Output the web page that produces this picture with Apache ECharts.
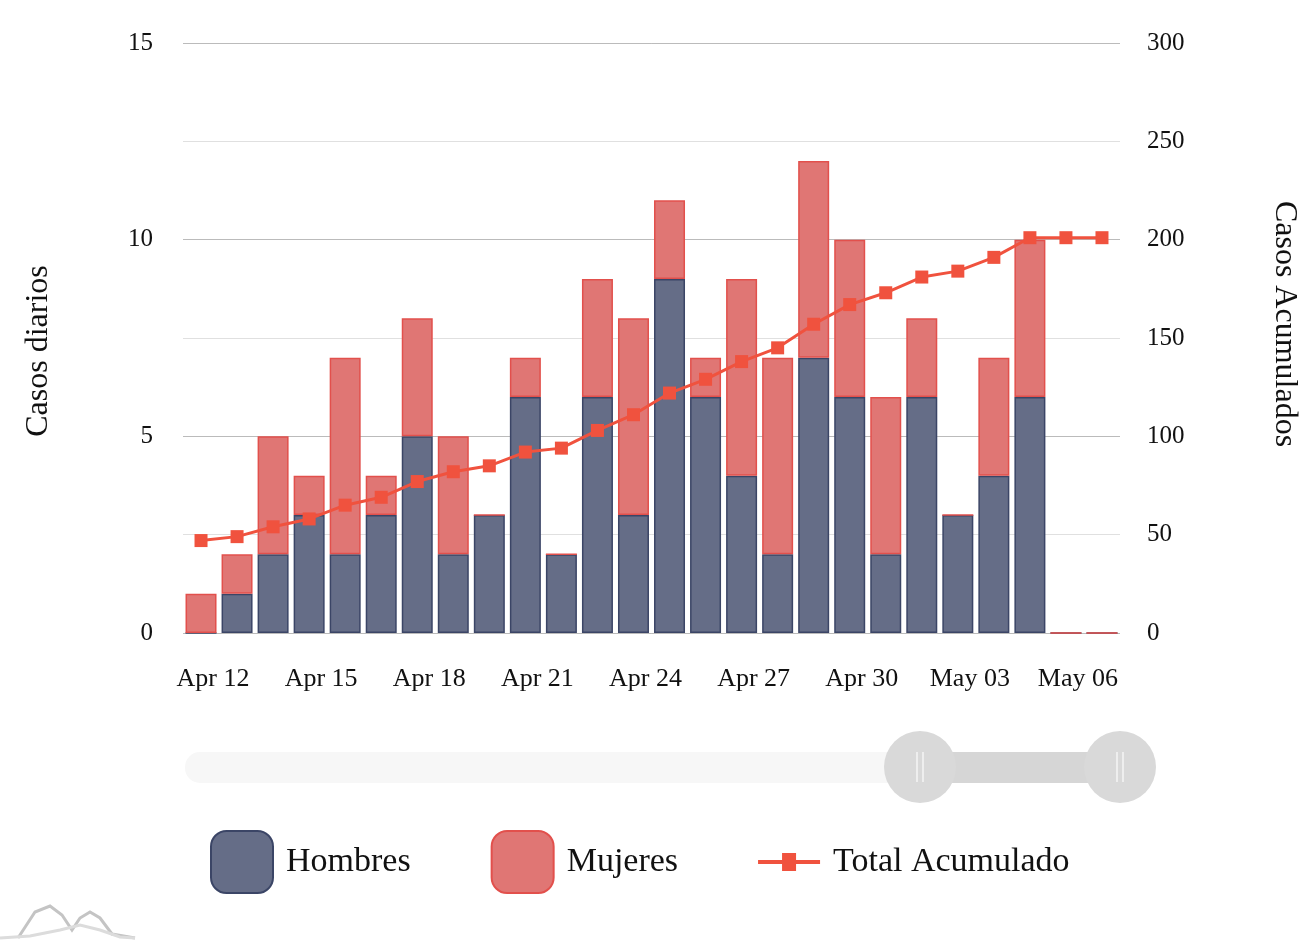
<!DOCTYPE html>
<html>
<head>
<meta charset="utf-8">
<script src="https://cdn.jsdelivr.net/npm/echarts@6/dist/echarts.min.js"></script>
<style>
html,body{margin:0;padding:0;background:#fff;}
#chart{width:1302px;height:940px;}
</style>
</head>
<body>
<div id="chart"></div>
<script>
const categories = ['Apr 12','Apr 13','Apr 14','Apr 15','Apr 16','Apr 17','Apr 18','Apr 19','Apr 20','Apr 21','Apr 22','Apr 23','Apr 24','Apr 25','Apr 26','Apr 27','Apr 28','Apr 29','Apr 30','May 01','May 02','May 03','May 04','May 05','May 06','May 07'];
const hombres = [0,1,2,3,2,3,5,2,3,6,2,6,3,9,6,4,2,7,6,2,6,3,4,6,0,0];
const mujeres = [1,1,3,1,5,1,3,3,0,1,0,3,5,2,1,5,5,5,4,4,2,0,3,4,0,0];
const totalAcumulado = [47,49,54,58,65,69,77,82,85,92,94,103,111,122,129,138,145,157,167,173,181,184,191,201,201,201];
const leftTicks = [0,15,5];   // min, max, interval
const rightTicks = [0,300,50];

const FONT = "'Liberation Serif','Times New Roman',serif";
const chart = echarts.init(document.getElementById('chart'));

function handle(cx){
  return [
    {type:'circle', shape:{cx:cx, cy:767, r:36}, style:{fill:'#d9d9d9'}},
    {type:'line', shape:{x1:cx-3,y1:752,x2:cx-3,y2:782}, style:{stroke:'#f4f4f4',lineWidth:1.5}},
    {type:'line', shape:{x1:cx+3,y1:752,x2:cx+3,y2:782}, style:{stroke:'#f4f4f4',lineWidth:1.5}}
  ];
}

const lineIcon = 'path://M0,24 L24,24 L24,17 L38,17 L38,24 L62,24 L62,28 L38,28 L38,35 L24,35 L24,28 L0,28 Z';

chart.setOption({
  animation:false,
  textStyle:{fontFamily:FONT},
  grid:{left:183,right:182,top:43,bottom:307,containLabel:false,outerBoundsMode:'none'},
  legend:{
    left:205, top:825, itemWidth:62, itemHeight:62, itemGap:80, symbolKeepAspect:true,
    textStyle:{fontFamily:FONT,fontSize:34,color:'#111',padding:[0,0,0,8]},
    data:[
      {name:'Hombres', icon:'roundRect'},
      {name:'Mujeres', icon:'roundRect'},
      {name:'Total Acumulado', icon:lineIcon}
    ]
  },
  xAxis:{
    type:'category', data:categories,
    axisLine:{show:false}, axisTick:{show:false},
    axisLabel:{interval:2, margin:33, fontFamily:FONT, fontSize:26, color:'#111', padding:[0,0,0,24]}
  },
  yAxis:[
    {type:'value', min:leftTicks[0], max:leftTicks[1], interval:leftTicks[2],
     name:'Casos diarios', nameLocation:'middle', nameGap:128,
     nameTextStyle:{fontFamily:FONT,fontSize:32,color:'#111',padding:[0,26,0,0]},
     axisLine:{show:false}, axisTick:{show:false},
     axisLabel:{margin:30, fontFamily:FONT, fontSize:25, color:'#111'},
     splitLine:{lineStyle:{color:'#000',opacity:0.17,width:1}}},
    {type:'value', min:rightTicks[0], max:rightTicks[1], interval:rightTicks[2],
     name:'Casos Acumulados', nameLocation:'middle', nameGap:148, nameRotate:-90,
     nameTextStyle:{fontFamily:FONT,fontSize:32,color:'#111',padding:[0,28,0,0]},
     axisLine:{show:false}, axisTick:{show:false},
     axisLabel:{margin:27, fontFamily:FONT, fontSize:25, color:'#111'},
     splitLine:{lineStyle:{color:'#000',opacity:0.12,width:1}}}
  ],
  series:[
    {name:'Hombres', type:'bar', stack:'casos', data:hombres, barCategoryGap:'14%',
     itemStyle:{color:'#656d87', borderColor:'#3b4566', borderWidth:1.5}},
    {name:'Mujeres', type:'bar', stack:'casos', data:mujeres, barCategoryGap:'14%',
     itemStyle:{color:'#e07674', borderColor:'#e2504c', borderWidth:1.5}},
    {name:'Total Acumulado', type:'line', yAxisIndex:1, data:totalAcumulado,
     symbol:'rect', symbolSize:13, lineStyle:{color:'#f0523e', width:3},
     itemStyle:{color:'#f0523e'}}
  ],
  graphic:[
    {type:'rect', shape:{x:185,y:752,width:970,height:31,r:15}, style:{fill:'#f7f7f7'}},
    {type:'rect', shape:{x:920,y:752,width:200,height:31}, style:{fill:'#d6d6d6'}},
    ...handle(920), ...handle(1120),
    {type:'polyline', shape:{points:[[18,938],[35,912],[50,906],[62,915],[72,930],[80,918],[90,912],[100,918],[112,934],[135,938]]}, style:{stroke:'#c4c4c4',lineWidth:3,fill:null}},
    {type:'polyline', shape:{points:[[0,938],[30,936],[60,930],[80,925],[100,930],[120,937],[135,938]]}, style:{stroke:'#dcdcdc',lineWidth:3,fill:null}}
  ]
});
</script>
</body>
</html>
